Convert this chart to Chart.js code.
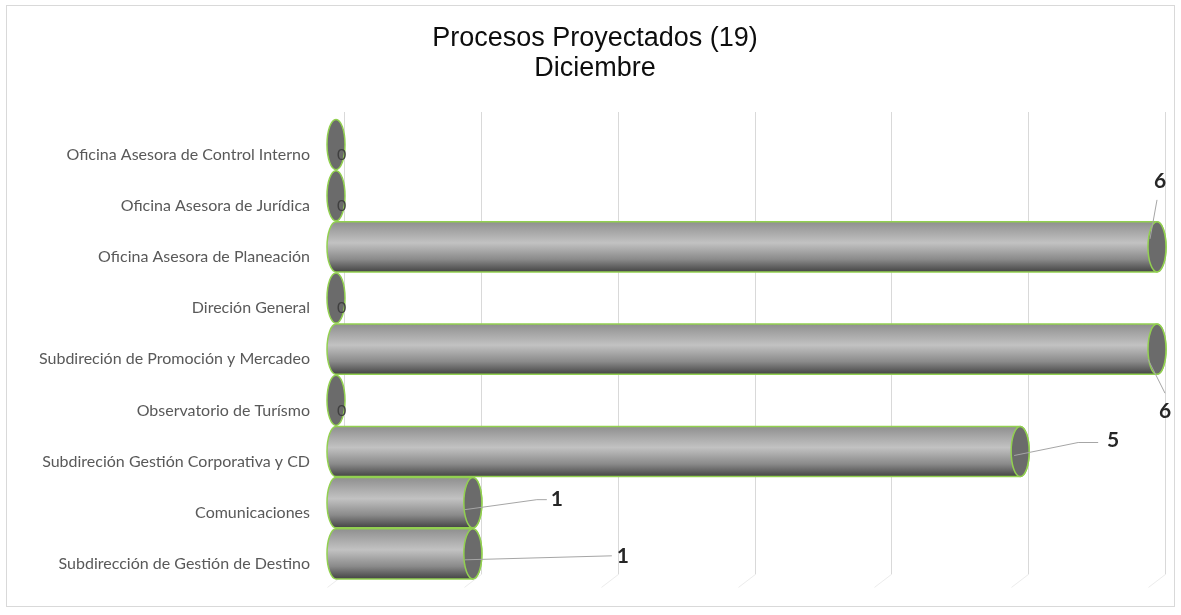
<!doctype html>
<html lang="es">
<head>
<meta charset="utf-8">
<title>Procesos Proyectados (19) Diciembre</title>
<script src="https://cdn.jsdelivr.net/npm/chart.js@4.4.0/dist/chart.umd.min.js"></script>
<style>
  html, body { margin: 0; padding: 0; background: #fff; }
  .wrap { position: relative; width: 1181px; height: 615px; }
</style>
</head>
<body>
<div class="wrap"><canvas id="chart" width="1181" height="615"></canvas></div>
<script>
// Datos (de arriba hacia abajo)
const categories = [
  'Oficina Asesora de Control Interno',
  'Oficina Asesora de Jurídica',
  'Oficina Asesora de Planeación',
  'Direción General',
  'Subdireción de Promoción y Mercadeo',
  'Observatorio de Turísmo',
  'Subdireción Gestión Corporativa y CD',
  'Comunicaciones',
  'Subdirección de Gestión de Destino',
];
const procesos = [0, 0, 6, 0, 6, 0, 5, 1, 1];
const gridValues = [0, 1, 2, 3, 4, 5, 6];
const titleLines = ['Procesos Proyectados (19)', 'Diciembre'];

// dónde va cada etiqueta respecto al extremo de la barra: [dx, dy] y línea guía
const labelPos = [
  null, null,
  { dx: 3,   dy: -66, line: [[-7, -8], [0, -47]] },
  null,
  { dx: 8,   dy: 62,  line: [[-9, 10], [8, 44]] },
  null,
  { dx: 93,  dy: -11, line: [[-6, 4], [58, -9], [78, -9]] },
  { dx: 84,  dy: -3,  line: [[-8, 7], [64, -3], [74, -3]] },
  { dx: 150, dy: 2,   line: [[-8, 6], [139, 2]] },
];

const GREEN = '#92d050';
const CAP_RX = 9;

const frame = {
  id: 'frame',
  beforeDraw(chart) {
    const c = chart.ctx;
    c.save();
    c.fillStyle = '#fff';
    c.fillRect(0, 0, chart.width, chart.height);
    c.strokeStyle = '#d9d9d9';
    c.lineWidth = 1;
    c.strokeRect(6.5, 5.5, 1168, 601);
    // título en dos líneas, centrado en el marco
    c.fillStyle = '#0d0d0d';
    c.font = '27px "Liberation Sans", Arial, sans-serif';
    c.textAlign = 'center';
    c.textBaseline = 'middle';
    titleLines.forEach((t, i) => c.fillText(t, 595, 39 + i * 30));
    c.restore();
  },
  beforeDatasetsDraw(chart) {
    // líneas de división del fondo (pared trasera en 3D)
    const c = chart.ctx;
    const xs = chart.scales.x;
    const area = chart.chartArea;
    c.save();
    c.lineWidth = 1;
    gridValues.forEach(v => {
      const px = Math.round(xs.getPixelForValue(v) + 8) + 0.5;
      c.strokeStyle = '#d9d9d9';
      c.beginPath();
      c.moveTo(px, area.top - 7);
      c.lineTo(px, area.bottom - 5);
      c.stroke();
      c.strokeStyle = '#ececec';
      c.beginPath();
      c.moveTo(px, area.bottom - 5);
      c.lineTo(px - 17, area.bottom + 8);
      c.stroke();
    });
    c.restore();
  },
};

const cylinders = {
  id: 'cylinders',
  afterDatasetsDraw(chart) {
    const c = chart.ctx;
    const meta = chart.getDatasetMeta(0);
    c.save();
    meta.data.forEach((bar, i) => {
      const x = bar.x, base = bar.base, y = bar.y;
      const ry = bar.height / 2 - 0.5;
      const top = y - ry, bottom = y + ry;
      if (x - base > 1) {
        const g = c.createLinearGradient(0, top, 0, bottom);
        g.addColorStop(0, '#8f8f8f');
        g.addColorStop(0.42, '#c2c2c2');
        g.addColorStop(0.75, '#8a8a8a');
        g.addColorStop(1, '#444444');
        c.beginPath();
        c.moveTo(x, top);
        c.lineTo(base, top);
        c.ellipse(base, y, CAP_RX, ry, 0, -Math.PI / 2, Math.PI / 2, true);
        c.lineTo(x, bottom);
        c.ellipse(x, y, CAP_RX, ry, 0, Math.PI / 2, -Math.PI / 2, true);
        c.closePath();
        c.fillStyle = g;
        c.fill();
        c.strokeStyle = GREEN;
        c.lineWidth = 1.5;
        c.stroke();
      }
      c.beginPath();
      c.ellipse(x, y, CAP_RX, ry, 0, 0, Math.PI * 2);
      c.fillStyle = '#6b6b6b';
      c.fill();
      c.strokeStyle = GREEN;
      c.lineWidth = 1.5;
      c.stroke();
    });
    c.restore();
  },
  afterDraw(chart) {
    const c = chart.ctx;
    const meta = chart.getDatasetMeta(0);
    c.save();
    meta.data.forEach((bar, i) => {
      const v = procesos[i];
      const p = labelPos[i];
      if (!p) {
        c.font = '16px Lato, "Liberation Sans", sans-serif';
        c.fillStyle = '#404040';
        c.textAlign = 'left';
        c.textBaseline = 'middle';
        c.fillText(String(v), bar.x + 1, bar.y + 10);
        return;
      }
      c.strokeStyle = '#a6a6a6';
      c.lineWidth = 1;
      c.beginPath();
      p.line.forEach(([dx, dy], k) => {
        if (k === 0) c.moveTo(bar.x + dx, bar.y + dy);
        else c.lineTo(bar.x + dx, bar.y + dy);
      });
      c.stroke();
      c.font = 'bold 21px Lato, "Liberation Sans", sans-serif';
      c.fillStyle = '#262626';
      c.textAlign = 'center';
      c.textBaseline = 'middle';
      c.fillText(String(v), bar.x + p.dx, bar.y + p.dy);
    });
    c.restore();
  },
};

new Chart(document.getElementById('chart'), {
  type: 'bar',
  data: {
    labels: categories,
    datasets: [{
      data: procesos,
      backgroundColor: 'rgba(0,0,0,0)',
      borderWidth: 0,
      barPercentage: 1,
      categoryPercentage: 1,
    }],
  },
  options: {
    indexAxis: 'y',
    responsive: false,
    animation: false,
    layout: { padding: { left: 0, right: 24, top: 119, bottom: 28 } },
    plugins: {
      legend: { display: false },
      tooltip: { enabled: false },
      title: { display: false },
    },
    scales: {
      x: {
        display: false,
        min: 0,
        max: 6,
      },
      y: {
        grid: { display: false, drawTicks: false },
        border: { display: false },
        afterFit(scale) { scale.width = 336; },
        ticks: {
          padding: 26,
          labelOffset: 10,
          color: '#595959',
          font: { family: 'Lato, "Liberation Sans", sans-serif', size: 16 },
        },
      },
    },
  },
  plugins: [frame, cylinders],
});
</script>
</body>
</html>
